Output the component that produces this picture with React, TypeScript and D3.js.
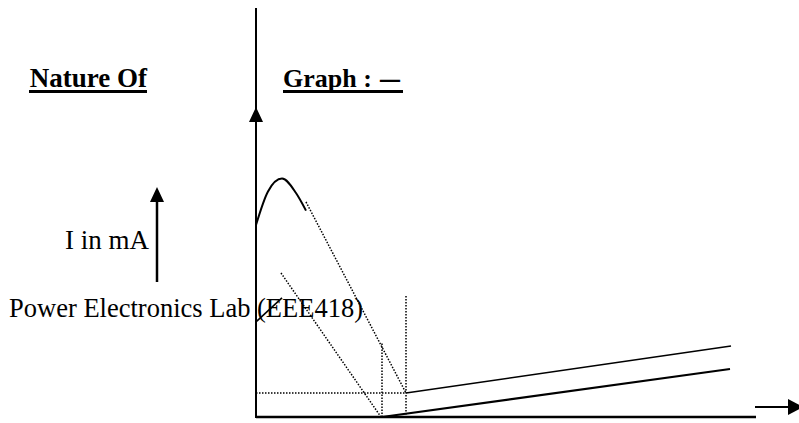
import React from "react";
import * as d3 from "d3";

const W = 799;
const H = 423;

// Data (x in V units, y in mA units)
const peakCurve: [number, number][] = [
  [0, 12.0], [1.2, 14.1], [2.6, 14.9], [4.0, 14.0], [5.0, 12.9],
];
const upperLine: [number, number][] = [[15.0, 1.5], [47.5, 4.44]];
const lowerLine: [number, number][] = [[12.6, 0], [47.4, 3.0]];
const smallSolid: [number, number][] = [[0, 5.94], [2.6, 7.44]];
const dottedDiag1: [number, number][] = [[5.0, 13.44], [15.0, 1.5]];
const dottedDiag2: [number, number][] = [[2.5, 9.0], [12.5, 0]];
const dottedV1: [number, number][] = [[12.6, 4.6], [12.6, 0]];
const dottedV2: [number, number][] = [[15.0, 7.56], [15.0, 0]];
const dottedH: [number, number][] = [[0, 1.5], [15.0, 1.5]];

const titleLeft = "Nature Of";
const titleRightA = "Graph :";
const titleRightB = "-";
const yLabel = "I in mA";
const footer = "Power Electronics Lab (EEE418)";

const x = d3.scaleLinear().domain([0, 50]).range([256, 756]);
const y = d3.scaleLinear().domain([0, 25]).range([417, 17]);

const line = d3.line<[number, number]>().x((d) => x(d[0])).y((d) => y(d[1]));
const curve = d3
  .line<[number, number]>()
  .x((d) => x(d[0]))
  .y((d) => y(d[1]))
  .curve(d3.curveMonotoneX);

const serif = "Liberation Serif";

export default function App() {
  const x0 = x(0);
  const yBottom = y(0);
  const dot = { stroke: "#000", strokeWidth: 1.5, strokeDasharray: "1.5 1.5", fill: "none" };
  return (
    <svg
      width={W}
      height={H}
      style={{ position: "absolute", left: 0, top: 0, background: "#fff" }}
    >
      {/* y axis */}
      <line x1={x0} y1={8} x2={x0} y2={yBottom + 1} stroke="#000" strokeWidth={2} />
      <path d={`M${x0},107 L${x0 - 7},122 L${x0 + 7},122 Z`} fill="#000" />
      {/* x axis */}
      <line x1={x0} y1={yBottom} x2={x(50)} y2={yBottom} stroke="#000" strokeWidth={2.5} />
      {/* right arrow */}
      <line x1={755} y1={407} x2={790} y2={407} stroke="#000" strokeWidth={2} />
      <path d={`M788,399 L803,407 L788,415 Z`} fill="#000" />

      {/* I in mA arrow */}
      <line x1={157} y1={282} x2={157} y2={198} stroke="#000" strokeWidth={2.5} />
      <path d={`M157,187 L150,202 L164,202 Z`} fill="#000" />

      {/* curves */}
      <path d={curve(peakCurve) || ""} stroke="#000" strokeWidth={2} fill="none" />
      <path d={line(upperLine) || ""} stroke="#000" strokeWidth={1.6} fill="none" />
      <path d={line(lowerLine) || ""} stroke="#000" strokeWidth={2.2} fill="none" />
      <path d={line(smallSolid) || ""} stroke="#000" strokeWidth={1.6} fill="none" />

      <path d={line(dottedDiag1) || ""} {...dot} />
      <path d={line(dottedDiag2) || ""} {...dot} />
      <path d={line(dottedV1) || ""} {...dot} />
      <path d={line(dottedV2) || ""} {...dot} />
      <path d={line(dottedH) || ""} {...dot} />

      {/* texts */}
      <g fontFamily={serif} fill="#000">
        <text x={147} y={87} textAnchor="end" fontWeight="bold" fontSize={27}>
          {titleLeft}
        </text>
        <rect x={29} y={90} width={118} height={3} />
        <text x={283} y={87} fontWeight="bold" fontSize={26}>
          {titleRightA}
          <tspan x={377} textLength={26} lengthAdjust="spacingAndGlyphs">
            {titleRightB}
          </tspan>
        </text>
        <rect x={283} y={90} width={120} height={3} />
        <text x={149} y={249} textAnchor="end" fontSize={27}>
          {yLabel}
        </text>
        <text x={363} y={317} textAnchor="end" fontSize={26.5}>
          {footer}
        </text>
      </g>
    </svg>
  );
}
